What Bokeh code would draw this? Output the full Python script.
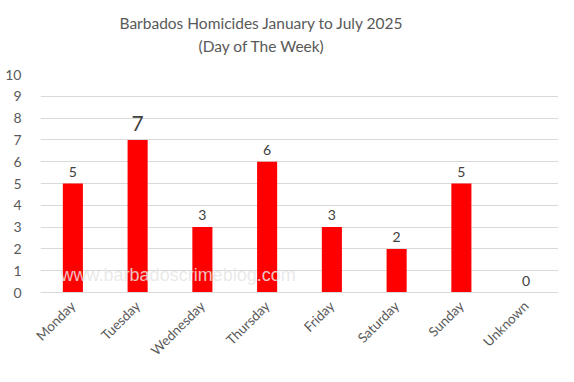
from bokeh.plotting import figure
from bokeh.models import ColumnDataSource, FixedTicker, Label, Title
from bokeh.core.properties import value
from bokeh.embed import file_html
from bokeh.resources import INLINE
import math

days = ["Monday", "Tuesday", "Wednesday", "Thursday", "Friday", "Saturday", "Sunday", "Unknown"]
homicides = [5, 7, 3, 6, 3, 2, 5, 0]
label_sizes = ["14px", "21px", "14px", "14px", "14px", "14px", "14px", "14px"]
label_offsets = [-12, -16, -12, -12, -12, -12, -12, -12]
title_lines = ["Barbados Homicides January to July 2025", "(Day of The Week)"]
watermark = "www.barbadoscrimeblog.com"
y_ticks = list(range(0, 11))

FONT = "Lato"

src = ColumnDataSource(dict(day=days, n=homicides, txt=[str(v) for v in homicides],
                            fs=label_sizes, yo=label_offsets))

p = figure(x_range=days, y_range=(0, 10), width=558, height=366,
           output_backend="svg", toolbar_location=None,
           min_border_left=40, min_border_right=0, min_border_top=74, min_border_bottom=73)
p.title.visible = False
p.outline_line_color = None
p.background_fill_color = "white"
p.border_fill_color = "white"

p.vbar(x="day", top="n", width=0.31, source=src, color="#ff0000", line_color=None)

p.text(x="day", y="n", text="txt", source=src, text_align="center", text_baseline="alphabetic",
       y_offset="yo", text_font=value(FONT), text_font_size="fs", text_color="#404040")

p.yaxis.ticker = FixedTicker(ticks=y_ticks)
p.xgrid.grid_line_color = None
p.ygrid.grid_line_color = "#d9d9d9"
p.ygrid.grid_line_width = 1

for ax in (p.xaxis, p.yaxis):
    ax.major_tick_line_color = None
    ax.minor_tick_line_color = None
    ax.major_label_text_font = FONT
    ax.major_label_text_font_size = "14px"
    ax.major_label_text_color = "#595959"
p.xaxis.major_label_text_font_size = "13.5px"
p.yaxis.axis_line_color = None
p.yaxis.major_label_standoff = 13
p.xaxis.axis_line_color = "#d9d9d9"
p.xaxis.major_label_orientation = math.pi / 4
p.xaxis.major_label_standoff = 5

# spacer between the plot frame and the two title lines
p.add_layout(Title(text=" ", standoff=13, text_font=FONT, text_font_size="2px"), "above")
p.add_layout(Title(text=title_lines[1], align="left", offset=158, standoff=5,
                   text_font=FONT, text_font_size="15.5px", text_font_style="normal",
                   text_color="#595959"), "above")
p.add_layout(Title(text=title_lines[0], align="left", offset=79, standoff=2,
                   text_font=FONT, text_font_size="15.5px", text_font_style="normal",
                   text_color="#595959"), "above")

p.add_layout(Label(x=0.31, y=0.79, text=watermark, text_align="left", text_baseline="middle",
                   text_font="Liberation Sans", text_font_size="18px", text_color="#e6e6e6",
                   text_alpha=0.85))

open("out.html", "w").write(file_html(p, INLINE))
